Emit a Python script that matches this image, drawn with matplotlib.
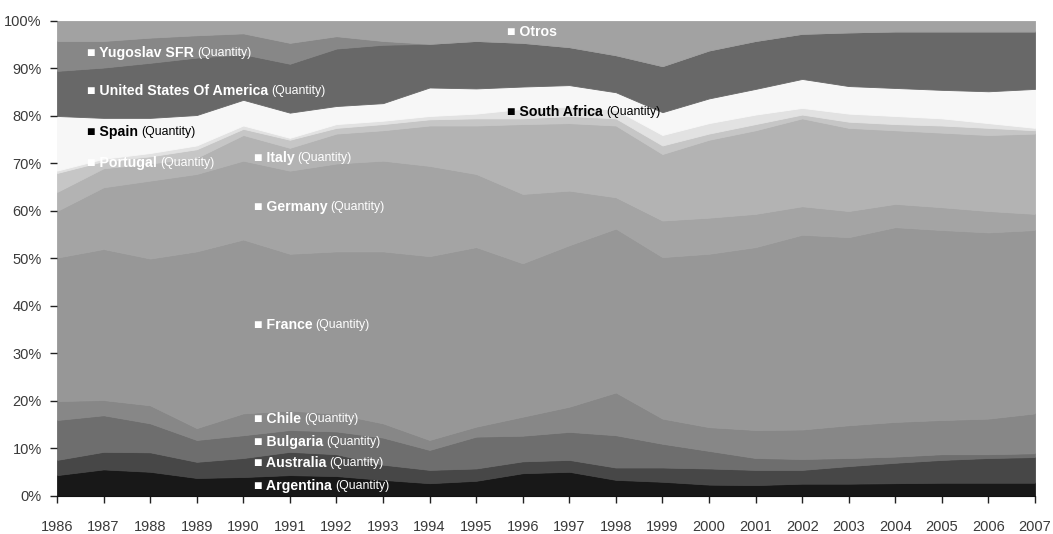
import matplotlib.pyplot as plt
import numpy as np

plt.rcParams["font.family"] = ["Liberation Sans", "DejaVu Sans"]

years = list(range(1986, 2008))

# share of each origin (bottom layer first)
argentina = [4.4, 5.6, 5.1, 3.8, 4.0, 4.4, 4.2, 3.4, 2.7, 3.2, 4.8, 5.1, 3.4, 3.0, 2.4, 2.3, 2.6, 2.6, 2.7, 2.8, 2.8, 2.8]
australia = [3.2, 3.7, 4.1, 3.4, 4.0, 4.9, 4.6, 3.2, 2.8, 2.6, 2.5, 2.5, 2.6, 3.0, 3.4, 3.2, 2.9, 3.7, 4.3, 4.8, 5.2, 5.4]
bulgaria = [8.4, 7.7, 6.1, 4.6, 4.8, 4.6, 4.8, 5.7, 4.2, 6.7, 5.4, 5.9, 6.8, 5.0, 3.7, 2.5, 2.3, 1.7, 1.3, 1.2, 0.8, 0.8]
chile = [4.0, 3.2, 3.8, 2.5, 4.6, 4.1, 3.7, 3.0, 2.1, 2.1, 4.0, 5.3, 9.0, 5.3, 5.0, 5.9, 6.2, 6.9, 7.3, 7.2, 7.5, 8.4]
france = [30.2, 31.8, 30.9, 37.2, 36.6, 33.0, 34.2, 36.2, 38.7, 37.8, 32.3, 34.0, 34.5, 34.0, 36.5, 38.5, 41.0, 39.6, 41.0, 40.0, 39.2, 38.6]
germany = [9.8, 13.0, 16.4, 16.3, 16.6, 17.5, 18.5, 19.1, 19.0, 15.4, 14.6, 11.5, 6.6, 7.7, 7.6, 7.0, 6.0, 5.5, 4.9, 4.8, 4.5, 3.4]
italy = [4.0, 4.0, 3.6, 3.4, 5.4, 4.8, 6.3, 6.4, 8.5, 10.2, 14.7, 14.2, 15.1, 14.0, 16.4, 17.6, 18.5, 17.5, 15.5, 15.7, 16.0, 16.9]
portugal = [4.0, 1.5, 1.5, 1.8, 1.3, 1.7, 1.2, 1.3, 1.3, 1.5, 1.2, 1.5, 1.5, 1.8, 1.3, 1.3, 0.8, 1.3, 1.3, 1.5, 1.5, 0.7]
south_africa = [0.5, 0.5, 0.7, 0.8, 0.7, 0.4, 0.8, 0.7, 0.7, 1.0, 2.0, 2.0, 1.8, 2.2, 2.2, 2.0, 1.4, 1.7, 1.7, 1.5, 1.0, 0.5]
spain = [11.5, 8.6, 7.4, 6.4, 5.4, 5.3, 3.8, 3.7, 6.0, 5.3, 4.7, 4.5, 3.7, 4.8, 5.2, 5.4, 6.1, 5.8, 5.9, 6.0, 6.7, 8.2]
usa = [9.5, 10.6, 11.6, 12.1, 9.6, 10.3, 12.1, 12.3, 9.2, 10.0, 9.2, 8.0, 7.8, 9.7, 10.1, 10.1, 9.5, 11.3, 11.9, 12.3, 12.6, 12.1]
yugoslavia = [6.3, 5.6, 5.3, 4.7, 4.4, 4.4, 2.6, 0.8, 0, 0, 0, 0, 0, 0, 0, 0, 0, 0, 0, 0, 0, 0]
otros = [4.2, 4.2, 3.5, 3.0, 2.6, 4.6, 3.2, 4.2, 4.8, 4.2, 4.6, 5.5, 7.2, 9.5, 6.2, 4.2, 2.7, 2.4, 2.2, 2.2, 2.2, 2.2]

series = [argentina, australia, bulgaria, chile, france, germany, italy,
          portugal, south_africa, spain, usa, yugoslavia, otros]
colors = ["#181818", "#474747", "#6e6e6e", "#878787", "#979797", "#a4a4a4",
          "#b3b3b3", "#c6c6c6", "#e2e2e2", "#f7f7f7", "#686868", "#878787",
          "#a2a2a2"]

data = np.array(series, dtype=float)
shares = data / data.sum(axis=0) * 100

fig = plt.figure(figsize=(10.53, 5.34), dpi=100)
ax = fig.add_axes([0.0541, 0.0712, 0.9288, 0.8895])

polys = ax.stackplot(years, shares, colors=colors)
for p in polys:
    p.set_edgecolor(p.get_facecolor())
    p.set_linewidth(0.6)

ax.set_xlim(1986, 2007)
ax.set_ylim(0, 100)
ax.set_xticks(years)
ax.set_yticks(range(0, 101, 10))
ax.set_yticklabels([f"{v}%" for v in range(0, 101, 10)])
ax.tick_params(axis="both", colors="#222222", labelcolor="#3a3a3a",
               labelsize=10.5, length=5, width=1)
ax.tick_params(axis="x", pad=12)
ax.tick_params(axis="y", pad=6)
for side in ["top", "right", "left"]:
    ax.spines[side].set_visible(False)
ax.spines["bottom"].set_color("#111111")

# (label, x, y, colour)
labels = [
    ("Yugoslav SFR", 1986.64, 93.3, "white"),
    ("United States Of America", 1986.64, 85.3, "white"),
    ("Spain", 1986.64, 76.7, "black"),
    ("Portugal", 1986.64, 70.2, "white"),
    ("Italy", 1990.22, 71.2, "white"),
    ("Germany", 1990.22, 60.9, "white"),
    ("France", 1990.22, 36.1, "white"),
    ("Chile", 1990.22, 16.2, "white"),
    ("Bulgaria", 1990.22, 11.3, "white"),
    ("Australia", 1990.22, 6.9, "white"),
    ("Argentina", 1990.22, 2.1, "white"),
    ("South Africa", 1995.67, 80.9, "black"),
]

for name, x, y, c in labels:
    t = ax.text(x, y, "\u25a0 " + name, color=c, fontsize=10.2,
                fontweight="bold", va="center", ha="left")
    ax.annotate("(Quantity)", xy=(1, 0), xycoords=t, xytext=(2.5, 0.7),
                textcoords="offset points", color=c, fontsize=8.8,
                va="bottom", ha="left")

ax.text(1995.67, 97.7, "\u25a0 Otros", color="white", fontsize=10.2,
        fontweight="bold", va="center", ha="left")

fig.savefig("out.png", dpi=100, facecolor="white")
